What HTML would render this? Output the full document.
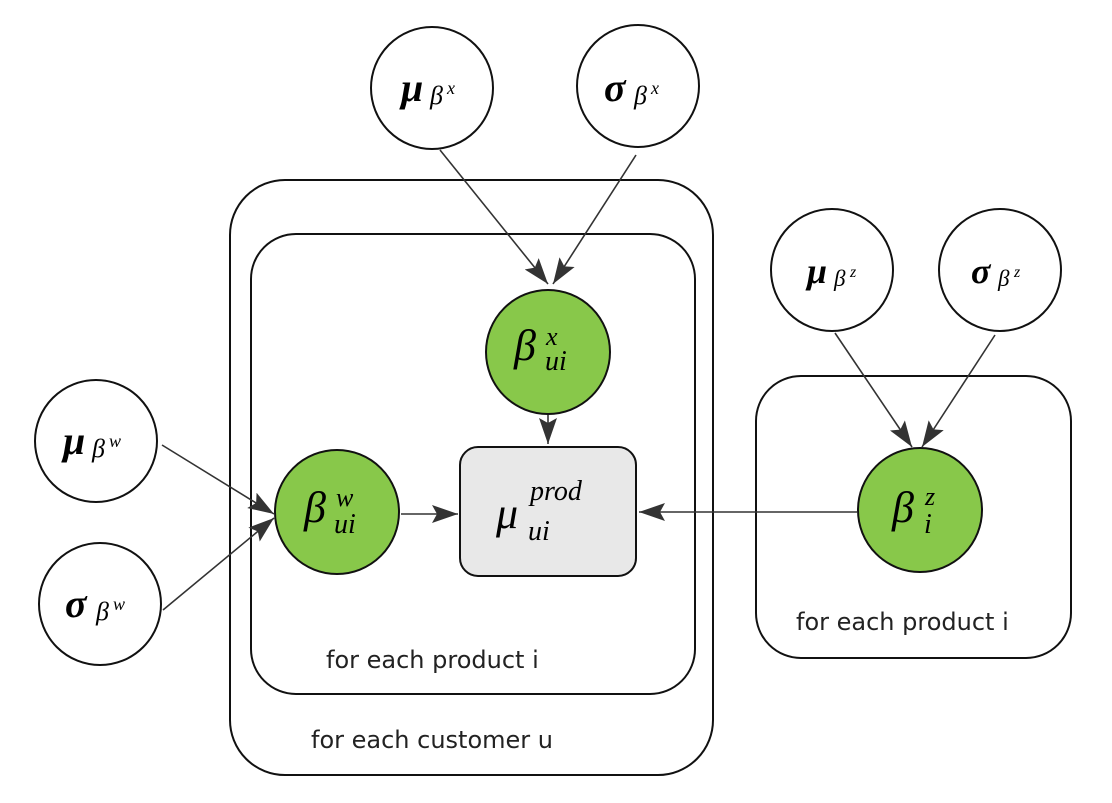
<!DOCTYPE html>
<html><head><meta charset="utf-8"><style>
html,body{margin:0;padding:0;background:#fff}
text{font-family:"Liberation Serif","DejaVu Serif",serif;font-style:italic;fill:#000}
.B{font-weight:bold}
.lab{font-family:"DejaVu Sans","Liberation Sans",sans-serif;font-style:normal;font-size:24px;fill:#222}
</style></head><body>
<svg width="1112" height="798" viewBox="0 0 1112 798" xmlns="http://www.w3.org/2000/svg">
<defs>
<marker id="b" markerWidth="26" markerHeight="18" refX="26" refY="9" orient="auto" markerUnits="userSpaceOnUse" viewBox="0 0 26 18"><path d="M0,0 L26,9 L0,18 L5,9 z" fill="#333"/></marker></defs>
<g fill="none" stroke="#111" stroke-width="2">
<rect x="230" y="180" width="483" height="595" rx="55"/>
<rect x="251" y="234" width="444" height="460" rx="45"/>
<rect x="756" y="376" width="315" height="282" rx="45"/>
</g>
<g stroke="#111" stroke-width="2" fill="#fff">
<circle cx="432" cy="88" r="61"/><circle cx="638" cy="86" r="61"/>
<circle cx="832" cy="270" r="61"/><circle cx="1000" cy="270" r="61"/>
<circle cx="96" cy="441" r="61"/><circle cx="100" cy="604" r="61"/>
</g>
<g stroke="#111" stroke-width="2" fill="#88c84a">
<circle cx="548" cy="352" r="62"/><circle cx="337" cy="512" r="62"/><circle cx="920" cy="510" r="62"/>
</g>
<rect x="460" y="447" width="176" height="129" rx="18" fill="#e8e8e8" stroke="#111" stroke-width="2"/>
<g stroke="#333" stroke-width="1.6" marker-end="url(#b)">
<line x1="440" y1="150" x2="548" y2="284"/>
<line x1="636" y1="155" x2="553" y2="284"/>
<line x1="548" y1="415" x2="548" y2="444"/>
<line x1="162" y1="445" x2="274" y2="514"/>
<line x1="163" y1="610" x2="274" y2="518"/>
<line x1="401" y1="514" x2="458" y2="514"/>
<line x1="857" y1="512" x2="639" y2="512"/>
<line x1="835" y1="333" x2="912" y2="447"/>
<line x1="995" y1="335" x2="922" y2="447"/>
</g>
<text class="B" x="401" y="101" font-size="40">μ</text><text x="430" y="104" font-size="26">β</text><text x="447" y="94" font-size="18">x</text>
<text class="B" x="604" y="101" font-size="40">σ</text><text x="634" y="104" font-size="26">β</text><text x="651" y="94" font-size="18">x</text>
<text class="B" x="807" y="283" font-size="36">μ</text><text x="834" y="286" font-size="23">β</text><text x="850" y="277" font-size="16">z</text>
<text class="B" x="971" y="283" font-size="36">σ</text><text x="998" y="286" font-size="23">β</text><text x="1014" y="277" font-size="16">z</text>
<text class="B" x="63" y="454" font-size="40">μ</text><text x="92" y="457" font-size="26">β</text><text x="109" y="447" font-size="18">w</text>
<text class="B" x="65" y="617" font-size="40">σ</text><text x="96" y="620" font-size="26">β</text><text x="113" y="610" font-size="18">w</text>
<text x="514" y="360" font-size="44">β</text><text x="546" y="345" font-size="26">x</text><text x="545" y="370" font-size="28">ui</text>
<text x="304" y="522" font-size="44">β</text><text x="336" y="506" font-size="26">w</text><text x="334" y="533" font-size="28">ui</text>
<text x="892" y="522" font-size="44">β</text><text x="925" y="505" font-size="26">z</text><text x="924" y="533" font-size="28">i</text>
<text x="496" y="528" font-size="44">μ</text><text x="530" y="500" font-size="28">prod</text><text x="528" y="540" font-size="28">ui</text>
<text class="lab" x="326" y="668">for each product i</text>
<text class="lab" x="311" y="748">for each customer u</text>
<text class="lab" x="796" y="630">for each product i</text>
</svg>
</body></html>
